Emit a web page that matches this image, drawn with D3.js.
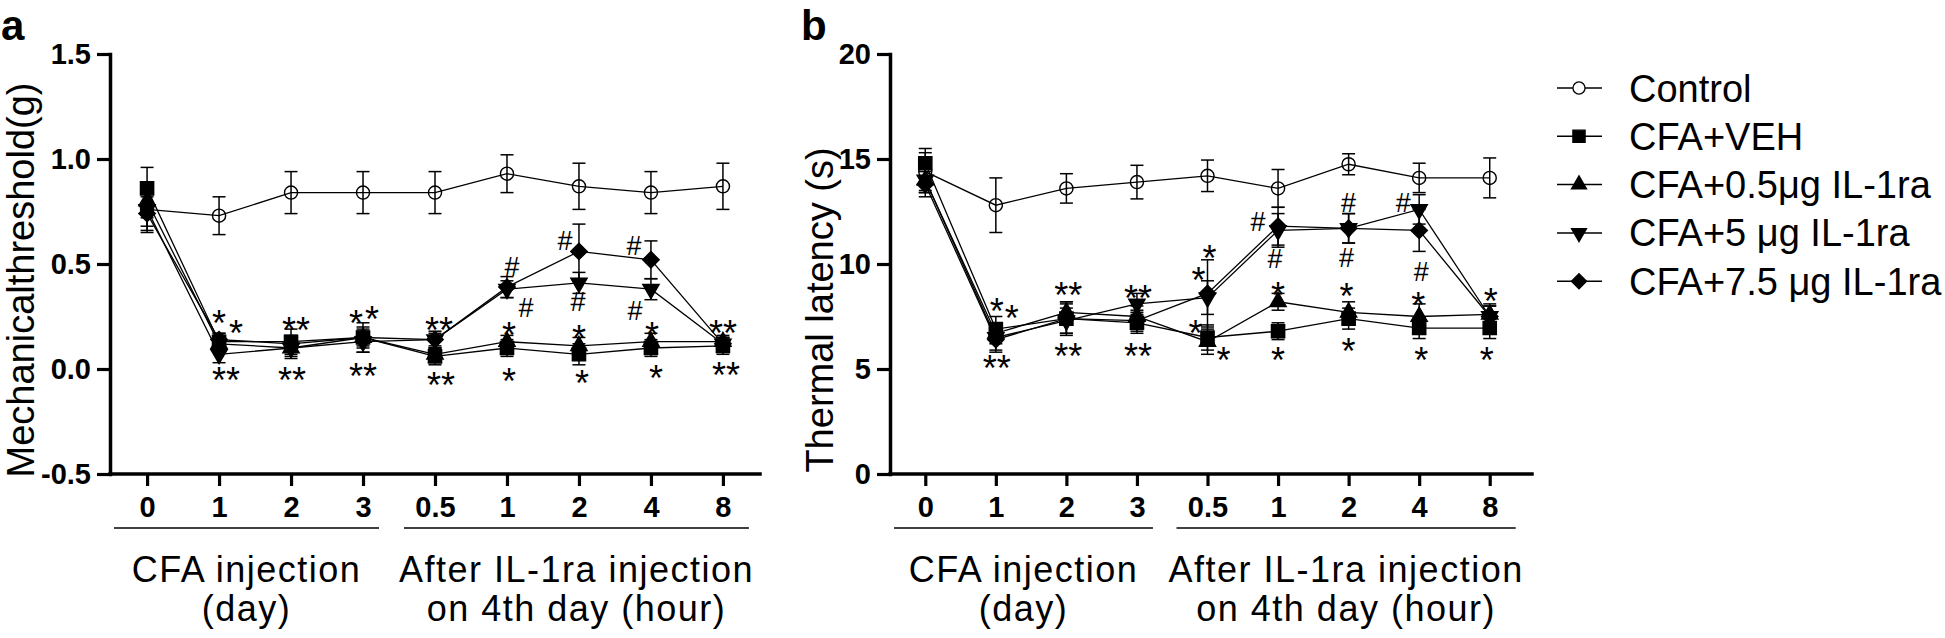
<!DOCTYPE html>
<html><head><meta charset="utf-8">
<script src="https://cdn.jsdelivr.net/npm/d3@7"></script>
<style>body{margin:0;background:#fff}svg{display:block}</style>
</head><body><svg id="chart" width="1945" height="638"></svg>
<script>
// ---------- data ----------
const timeLabels = ["0","1","2","3","0.5","1","2","4","8"];
const groupLabels = [["CFA injection","(day)"],["After IL-1ra injection","on 4th day (hour)"]];
const seriesNames = ["Control","CFA+VEH","CFA+0.5μg IL-1ra","CFA+5 μg IL-1ra","CFA+7.5 μg IL-1ra"];
const yTicksA = [-0.5,0,0.5,1.0,1.5];
const yTicksB = [0,5,10,15,20];

// panel a: mechanical threshold (g)
const controlA = [0.76,0.73,0.84,0.84,0.84,0.93,0.87,0.84,0.87];
const controlErrA = [0.11,0.09,0.10,0.10,0.10,0.09,0.11,0.10,0.11];
const vehA = [0.86,0.13,0.13,0.15,0.06,0.10,0.07,0.10,0.11];
const vehErrA = [0.10,0.04,0.06,0.07,0.04,0.04,0.05,0.04,0.04];
const ra05A = [0.80,0.12,0.10,0.15,0.07,0.13,0.11,0.13,0.13];
const ra05ErrA = [0.08,0.04,0.05,0.05,0.03,0.03,0.04,0.04,0.03];
const ra5A = [0.76,0.07,0.10,0.13,0.14,0.38,0.41,0.38,0.12];
const ra5ErrA = [0.08,0.04,0.04,0.05,0.03,0.04,0.05,0.05,0.03];
const ra75A = [0.74,0.14,0.12,0.15,0.14,0.39,0.56,0.52,0.12];
const ra75ErrA = [0.08,0.03,0.04,0.04,0.04,0.05,0.13,0.09,0.03];
// annotations a: [time index, value, text, dx]
const annotA = [
  [1,0.257,"*",0],[1,0.21,"*",17],[1,-0.014,"**",7],
  [2,0.224,"**",5],[2,-0.014,"**",1],
  [3,0.257,"*",-7],[3,0.276,"*",9],[3,0.005,"**",0],
  [4,0.224,"**",4],[4,-0.038,"**",6],
  [5,0.2,"*",2],[5,-0.02,"*",2],[5,0.486,"#",5],[5,0.295,"#",19],
  [6,0.614,"#",-14],[6,0.32,"#",-1],[6,0.186,"*",0],[6,-0.03,"*",3],
  [7,0.59,"#",-17],[7,0.28,"#",-16],[7,0.2,"*",1],[7,-0.005,"*",5],
  [8,0.21,"**",0],[8,0.01,"**",3]
];

// panel b: thermal latency (s)
const controlB = [14.4,12.8,13.6,13.9,14.2,13.6,14.75,14.1,14.1];
const controlErrB = [0.9,1.3,0.7,0.8,0.75,0.9,0.5,0.7,0.95];
const vehB = [14.8,6.9,7.4,7.2,6.5,6.8,7.4,6.95,6.95];
const vehErrB = [0.7,0.6,0.8,0.5,0.6,0.4,0.5,0.5,0.5];
const ra05B = [14.0,6.7,7.7,7.5,6.3,8.2,7.7,7.5,7.6];
const ra05ErrB = [0.6,0.5,0.5,0.5,0.6,0.4,0.5,0.6,0.5];
const ra5B = [14.0,6.5,7.3,8.1,8.4,11.6,11.7,12.6,7.5];
const ra5ErrB = [0.6,0.6,0.6,0.5,0.8,0.8,0.7,0.7,0.5];
const ra75B = [13.8,6.4,7.4,7.3,8.6,11.8,11.7,11.6,7.5];
const ra75ErrB = [0.6,0.6,0.7,0.5,1.6,0.9,0.7,1.0,0.5];
const annotB = [
  [1,8.14,"*",1],[1,7.8,"*",16],[1,5.43,"**",1],
  [2,8.9,"**",2],[2,6.0,"**",2],
  [3,8.76,"**",1],[3,6.0,"**",1],
  [4,10.67,"*",2],[4,9.62,"*",-9],[4,7.1,"*",-12],[4,5.8,"*",16],
  [5,12.0,"#",-20],[5,10.25,"#",-3],[5,8.9,"*",0],[5,5.8,"*",0],
  [6,12.95,"#",0],[6,10.3,"#",-2],[6,8.86,"*",-2],[6,6.24,"*",0],
  [7,12.95,"#",-16],[7,9.62,"#",2],[7,8.43,"*",-1],[7,5.8,"*",2],
  [8,8.62,"*",1],[8,5.8,"*",-3]
];

// ---------- drawing ----------
const FONT = "'Liberation Sans', Arial, Helvetica, sans-serif";
const svg = d3.select("#chart").style("font-family", FONT);

const symbols = [
  {type:d3.symbolCircle, size:135, rot:0, fill:"none"},
  {type:d3.symbolSquare, size:175, rot:0, fill:"#000"},
  {type:d3.symbolTriangle, size:115, rot:0, fill:"#000"},
  {type:d3.symbolTriangle, size:115, rot:180, fill:"#000"},
  {type:d3.symbolSquare, size:135, rot:45, fill:"#000"}
];

const panels = [
  {label:"a", labelX:1, axisX:110, xRange:[110,760], pad:0.515, axisEnd:760,
   yDomain:[-0.5,1.5], yTicks:yTicksA, fmt:v=>v.toFixed(1),
   title:"Mechanicalthreshold(g)", titleX:34, titleY:280,
   series:[controlA,vehA,ra05A,ra5A,ra75A], errs:[controlErrA,vehErrA,ra05ErrA,ra5ErrA,ra75ErrA], annot:annotA},
  {label:"b", labelX:801, axisX:890, xRange:[890,1525], pad:0.5, axisEnd:1532,
   yDomain:[0,20], yTicks:yTicksB, fmt:d3.format("d"),
   title:"Thermal latency (s)", titleX:833, titleY:310,
   series:[controlB,vehB,ra05B,ra5B,ra75B], errs:[controlErrB,vehErrB,ra05ErrB,ra5ErrB,ra75ErrB], annot:annotB}
];

const TOP = 54, BOTTOM = 474;

panels.forEach(p => {
  const x = d3.scalePoint().domain(d3.range(timeLabels.length)).range(p.xRange).padding(p.pad);
  const y = d3.scaleLinear().domain(p.yDomain).range([BOTTOM, TOP]);
  const g = svg.append("g");

  // panel letter
  g.append("text").attr("x", p.labelX).attr("y", 40)
    .attr("font-size", 42).attr("font-weight", "bold").text(p.label);

  // y axis title
  g.append("text").attr("transform", `translate(${p.titleX},${p.titleY}) rotate(-90)`)
    .attr("text-anchor", "middle").attr("font-size", 38).text(p.title);

  // y axis
  const ya = g.append("g").attr("transform", `translate(${p.axisX},0)`)
    .call(d3.axisLeft(y).tickValues(p.yTicks).tickFormat(p.fmt).tickSize(13).tickPadding(6).tickSizeOuter(0));
  // x axis
  const xa = g.append("g").attr("transform", `translate(0,${BOTTOM})`)
    .call(d3.axisBottom(x).tickFormat(i => timeLabels[i]).tickSize(12).tickPadding(10).tickSizeOuter(0));
  xa.select(".domain").attr("d", `M${p.axisX},0H${p.axisEnd}`);
  [ya, xa].forEach(a => {
    a.selectAll(".domain").attr("stroke", "#000").attr("stroke-width", 3.5).attr("stroke-linecap", "square");
    a.selectAll(".tick line").attr("stroke", "#000").attr("stroke-width", 3.2);
    a.selectAll(".tick text").attr("font-size", 29).attr("font-weight", "bold")
      .attr("font-family", FONT).attr("fill", "#000");
  });

  // group lines and labels
  const groups = [
    {x0:p.axisX + 4, x1:x(3) + 16},
    {x0:x(4) - 31, x1:x(8) + 26}
  ];
  groups.forEach((gr, k) => {
    g.append("line").attr("x1", gr.x0).attr("x2", gr.x1).attr("y1", 528).attr("y2", 528)
      .attr("stroke", "#000").attr("stroke-width", 1.5);
    const cx = (gr.x0 + gr.x1) / 2;
    groupLabels[k].forEach((t, j) => {
      g.append("text").attr("x", cx).attr("y", 582 + j * 39).attr("text-anchor", "middle")
        .attr("font-size", 36).attr("letter-spacing", 1.5).text(t);
    });
  });

  // error bars
  p.series.forEach((s, si) => {
    const e = p.errs[si];
    const eb = g.append("g").attr("stroke", "#000").attr("stroke-width", 1.5);
    s.forEach((v, i) => {
      const cx = x(i), y1 = y(v + e[i]), y2 = y(v - e[i]);
      eb.append("line").attr("x1", cx).attr("x2", cx).attr("y1", y1).attr("y2", y2);
      eb.append("line").attr("x1", cx - 6.5).attr("x2", cx + 6.5).attr("y1", y1).attr("y2", y1);
      eb.append("line").attr("x1", cx - 6.5).attr("x2", cx + 6.5).attr("y1", y2).attr("y2", y2);
    });
  });
  // lines
  const line = d3.line().x((d, i) => x(i)).y(d => y(d));
  p.series.forEach(s => {
    g.append("path").datum(s).attr("d", line).attr("fill", "none")
      .attr("stroke", "#000").attr("stroke-width", 1.3);
  });
  // markers
  p.series.forEach((s, si) => {
    const sym = symbols[si];
    g.append("g").selectAll("path").data(s).join("path")
      .attr("d", d3.symbol().type(sym.type).size(sym.size))
      .attr("transform", (d, i) => `translate(${x(i)},${y(d)}) rotate(${sym.rot})`)
      .attr("fill", sym.fill).attr("stroke", "#000").attr("stroke-width", 1.4);
  });
  // significance marks
  p.annot.forEach(([i, v, t, dx]) => {
    const isHash = t === "#";
    const fs = isHash ? 27 : 36;
    const off = isHash ? 0.35 * fs : 0.575 * fs;
    g.append("text").attr("x", x(i) + dx).attr("y", y(v) + off)
      .attr("text-anchor", "middle").attr("font-size", fs).text(t);
  });
});

// legend
const legend = svg.append("g");
seriesNames.forEach((name, k) => {
  const ry = 88 + k * 48.3;
  const sym = symbols[k];
  legend.append("line").attr("x1", 1557).attr("x2", 1602).attr("y1", ry).attr("y2", ry)
    .attr("stroke", "#000").attr("stroke-width", 1.5);
  legend.append("path").attr("d", d3.symbol().type(sym.type).size(sym.size * 0.85))
    .attr("transform", `translate(1579,${ry}) rotate(${sym.rot})`)
    .attr("fill", sym.fill === "none" ? "#fff" : sym.fill).attr("stroke", "#000").attr("stroke-width", 1.3);
  legend.append("text").attr("x", 1629).attr("y", ry + 13.5).attr("font-size", 38).text(name);
});
</script>
</body></html>
